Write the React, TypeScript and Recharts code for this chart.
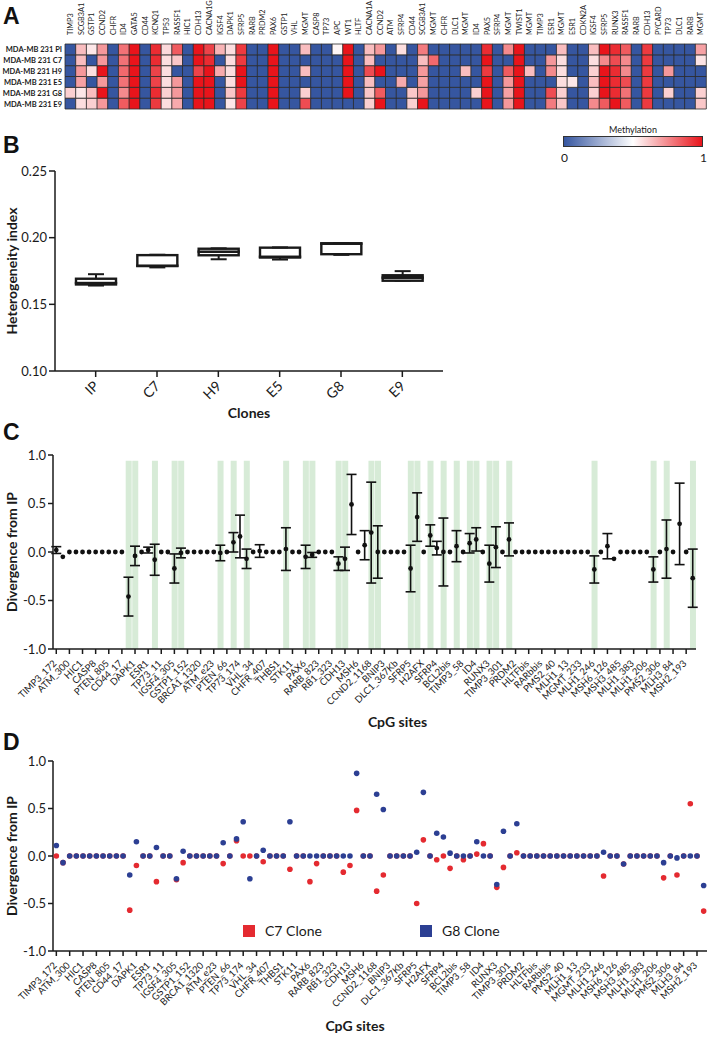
import React from 'react'
import { BarChart, Bar, Cell, ComposedChart, Line, ErrorBar, XAxis, YAxis, Legend } from 'recharts'

const FONT = 'Lato, "Open Sans", sans-serif'
const INK = '#1a1a1a'

// ---------- A: methylation heatmap ----------
const genes = [
  'TIMP3', 'SCGB3A1', 'GSTP1', 'CCND2', 'CHFR', 'ID4', 'GATA5', 'CD44', 'KCNQ1', 'TP53',
  'RASSF1', 'HIC1', 'CDH13', 'CACNA1G', 'IGSF4', 'DAPK1', 'SFRP5', 'RARB', 'PRDM2', 'PAX6',
  'GSTP1', 'VHL', 'MGMT', 'CASP8', 'TP73', 'APC', 'WT1', 'HLTF', 'CACNA1A', 'CCND2',
  'ATM', 'SFRP4', 'CD44', 'SCGB3A1', 'MGMT', 'CHFR', 'DLC1', 'MGMT', 'ID4', 'PAX5',
  'SFRP4', 'MGMT', 'TWIST1', 'MGMT', 'TIMP3', 'ESR1', 'MGMT', 'ESR1', 'CDKN2A', 'IGSF4',
  'SFRP5', 'RUNX3', 'RASSF1', 'RARB', 'CDH13', 'PYCARD', 'TP73', 'DLC1', 'RARB', 'MGMT',
]
const rowLabels = ['MDA-MB 231 PI', 'MDA-MB 231 C7', 'MDA-MB 231 H9', 'MDA-MB 231 E5', 'MDA-MB 231 G8', 'MDA-MB 231 E9']
const heatKeys = ['PI', 'C7', 'H9', 'E5', 'G8', 'E9']

const methPI = [
  0, 0.64, 0.55, 0.72, 0, 0.8, 1, 0, 0.95, 0.58, 0.85, 0, 1, 0.9, 0.66, 0.57, 0.92, 0, 0, 1,
  0, 0, 0.64, 0, 0, 0.52, 1, 0, 0.64, 0.72, 0, 0.57, 0, 0.78, 0, 0, 0, 0, 0, 0.95,
  0, 0.75, 1, 0, 0, 0, 0.64, 0, 0, 0.64, 1, 0.95, 0.85, 0, 0.92, 0, 0, 0, 0, 0.7,
]
const methC7 = [
  0, 0.64, 0, 0.72, 0, 0.8, 1, 0, 0.95, 0.57, 0.62, 0, 1, 0.95, 0, 0.57, 0.92, 0, 0, 1,
  0, 0, 0, 0, 0, 0, 1, 0, 0.64, 0, 0, 0, 0, 0.64, 0.82, 0, 0, 0, 0, 1,
  0, 0, 1, 0, 0, 0.72, 0.57, 0, 0, 0.57, 0.75, 0.88, 0.75, 0, 0.92, 0, 0, 0, 0, 0.56,
]
const methH9 = [
  0, 0.72, 0.57, 1, 0, 0.82, 1, 0, 0.9, 0.57, 0, 0, 0.9, 1, 0.68, 0.57, 1, 0, 0, 1,
  0, 0, 0.64, 0, 0, 0, 1, 0, 0.88, 1, 0, 0, 0, 0.72, 0, 0, 0, 0.64, 0, 0.92,
  0, 0.85, 1, 0.64, 0, 0.75, 0.57, 0, 0, 0.6, 1, 0.95, 0.75, 0, 0.92, 0, 0.72, 0, 0, 0,
]
const methE5 = [
  0, 0.7, 0, 0.72, 0, 0.8, 1, 0, 0.9, 0.57, 0.72, 0, 1, 1, 0, 0.57, 1, 0, 0, 1,
  0, 0, 0, 0, 0, 0, 1, 0, 0.64, 0, 0, 0.68, 0, 0.7, 0, 0, 0, 0, 0, 1,
  0, 0.72, 1, 0, 0, 0, 0.57, 0.55, 0, 0.64, 1, 0.95, 0.88, 0, 0.92, 0, 0, 0, 0, 0,
]
const methG8 = [
  0.6, 0.55, 0.64, 1, 0, 0.75, 1, 0, 0.95, 0.6, 0.72, 0, 1, 1, 0, 0.62, 0.92, 0, 0, 1,
  0, 0, 0.6, 0, 0, 0, 1, 0, 0.62, 0.85, 0, 0, 0.62, 0.72, 0, 0, 0, 0, 0.6, 1,
  0, 0.7, 1, 0, 0, 0.88, 0.6, 0, 0, 0.6, 1, 0.95, 0.8, 0, 0.92, 0, 0.6, 0, 0, 0.6,
]
const methE9 = [
  0, 0.57, 0.6, 0.72, 0, 0.85, 1, 0, 0.92, 0.57, 0.68, 0, 1, 1, 0, 0.55, 0.9, 0, 0, 1,
  0, 0, 0.88, 0, 0, 0, 0, 0, 0.6, 1, 0, 0, 0.6, 1, 0, 0, 0, 0, 0, 1,
  0, 0.72, 1, 0, 0, 0.78, 0.62, 0, 0, 0.75, 0.85, 1, 0.85, 0, 0.92, 0, 0, 0, 0, 0.62,
]
const methRows = [methPI, methC7, methH9, methE5, methG8, methE9]

// ---------- B: heterogeneity index ----------
const clones = ['IP', 'C7', 'H9', 'E5', 'G8', 'E9']
const boxMin = [0.1641, 0.1777, 0.1838, 0.1836, 0.1871, 0.1677]
const boxQ1 = [0.1649, 0.1787, 0.1868, 0.1851, 0.1876, 0.1677]
const boxMed = [0.166, 0.179, 0.1895, 0.1857, 0.1955, 0.17]
const boxQ3 = [0.1692, 0.1869, 0.1917, 0.1925, 0.1958, 0.1718]
const boxMax = [0.1726, 0.1872, 0.192, 0.1927, 0.196, 0.1749]

// ---------- C / D: CpG sites ----------
const cpgLabels = [
  'TIMP3_172', 'ATM_300', 'HIC1', 'CASP8', 'PTEN_805', 'CD44_17', 'DAPK1', 'ESR1', 'TP73_11', 'IGSF4_305',
  'GSTP1_152', 'BRCA1_1320', 'ATM_e23', 'PTEN_66', 'TP73_174', 'VHL_34', 'CHFR_407', 'THBS1', 'STK11', 'PAX6',
  'RARB_823', 'RB1_323', 'CDH13', 'MSH6', 'CCND2_1168', 'BNIP3', 'DLC1_367Kb', 'SFRP5', 'H2AFX', 'SFRP4',
  'BCL2bis', 'TIMP3_58', 'ID4', 'RUNX3', 'TIMP3_301', 'PRDM2', 'HLTFbis', 'RARbbis', 'PMS2_40', 'MLH1_13',
  'MGMT_233', 'MLH1_246', 'MSH6_126', 'MSH3_485', 'MLH1_383', 'MLH1_206', 'PMS2_306', 'MLH3_84', 'MSH2_193',
]
const divMean = [
  0.02, -0.05, 0, 0, 0, 0, 0, 0, 0, 0,
  0, -0.46, -0.04, 0, 0.02, -0.08, 0, 0, -0.17, -0.01,
  0, 0, 0, 0, 0, -0.01, 0, 0.1, 0.16, -0.07,
  0, 0.01, 0, 0, 0, 0.03, 0, 0, -0.05, -0.03,
  0, 0, 0, -0.12, -0.07, 0.49, 0, 0.07, 0.2, 0,
  0, 0, 0, 0, -0.17, 0.36, 0, 0.17, 0.04, 0,
  0, 0.06, 0, 0.09, 0.13, 0, -0.12, 0.05, 0, 0.13,
  0, 0, 0, 0, 0, 0, 0, 0, 0, 0,
  0, 0, -0.18, 0, 0.06, -0.07, 0, 0, 0, 0,
  0, -0.18, 0, 0.03, 0, 0.29, 0, -0.27,
]
const divErr = [
  0.035, 0, 0, 0, 0, 0, 0, 0, 0, 0,
  0, 0.2, 0.1, 0, 0.03, 0.16, 0, 0, 0.15, 0.05,
  0, 0, 0, 0, 0, 0.08, 0, 0.1, 0.22, 0.1,
  0, 0.065, 0, 0, 0, 0.22, 0, 0, 0.12, 0.025,
  0, 0, 0, 0.07, 0.12, 0.31, 0, 0.15, 0.52, 0.27,
  0, 0, 0, 0, 0.24, 0.25, 0, 0.11, 0.07, 0.35,
  0, 0.16, 0, 0.1, 0.12, 0, 0.19, 0.21, 0, 0.17,
  0, 0, 0, 0, 0, 0, 0, 0, 0, 0,
  0, 0, 0.14, 0, 0.13, 0, 0, 0, 0, 0,
  0, 0.13, 0, 0.3, 0, 0.42, 0, 0.3,
]
const shadedSites = [11, 12, 15, 18, 19, 25, 27, 29, 35, 38, 39, 43, 44, 48, 49, 54, 55, 57, 59, 61, 63, 64, 66, 67, 69, 82, 91, 93, 97]

const c7Div = [
  0, -0.07, 0, 0, 0, 0, 0, 0, 0, 0,
  0, -0.57, -0.1, 0, 0, -0.27, 0, 0, -0.25, -0.07,
  0, 0, 0, 0, 0, -0.08, 0, 0.16, 0, 0,
  0, -0.06, 0, 0, 0, -0.14, 0, 0, -0.27, -0.08,
  0, 0, 0, -0.17, -0.1, 0.48, 0, 0, -0.37, -0.2,
  0, 0, 0, 0, -0.5, 0.17, 0, -0.04, 0, -0.13,
  0, -0.04, 0, 0.02, 0.13, 0, -0.33, -0.12, 0, 0.035,
  0, 0, 0, 0, 0, 0, 0, 0, 0, 0,
  0, 0, -0.21, 0, 0, -0.085, 0, 0, 0, 0,
  0, -0.23, 0, -0.2, 0, 0.55, 0, -0.58,
]
const g8Div = [
  0.11, -0.07, 0, 0, 0, 0, 0, 0, 0, 0,
  0, -0.2, 0.15, 0, 0, 0.09, 0, 0, -0.24, 0.05,
  0, 0, 0, 0, 0, 0.14, 0, 0.18, 0.36, -0.24,
  0, 0.06, 0, 0, 0, 0.36, 0, 0, 0, 0,
  0, 0, 0, 0, 0, 0.87, 0, 0, 0.65, 0.49,
  0, 0, 0, 0, 0.04, 0.67, 0, 0.24, 0.2, 0.03,
  0, 0, 0, 0.15, 0, 0, -0.3, 0.26, 0, 0.34,
  0, 0, 0, 0, 0, 0, 0, 0, 0, 0,
  0, 0, 0.04, 0, 0, -0.085, 0, 0, 0, 0,
  0, -0.07, 0, -0.02, 0, 0, 0, -0.31,
]
const seriesNames = ['C7 Clone', 'G8 Clone']
const RED_DOT = '#e42a30'
const BLUE_DOT = '#2c3f93'

// ---- built tables ----
const heatData = genes.map((gene, i) => {
  const d: any = { i, gene }
  heatKeys.forEach((k, r) => {
    d[k] = methRows[r][i]
    d['u' + k] = 1
  })
  return d
})

const boxData = clones.map((clone, k) => ({
  clone,
  base: boxMin[k],
  lowW: boxQ1[k] - boxMin[k],
  lower: boxMed[k] - boxQ1[k],
  upper: boxQ3[k] - boxMed[k],
  highW: boxMax[k] - boxQ3[k],
}))

const cpgData = divMean.map((m, i) => ({
  i,
  mean: m,
  err: divErr[i],
  shade: shadedSites.includes(i) ? [-1, 0.94] : null,
  c7: c7Div[i],
  g8: g8Div[i],
}))

const BLUE = [54, 86, 160]
const RED = [233, 20, 27]
const WHITE = [255, 255, 255]
const mix = (a: number[], b: number[], t: number) =>
  `rgb(${a.map((c, k) => Math.round(c + (b[k] - c) * t)).join(',')})`
const methColor = (v: number) => (v <= 0.5 ? mix(BLUE, WHITE, v / 0.5) : mix(WHITE, RED, (v - 0.5) / 0.5))

// ---------- ticks & shapes ----------
function GeneTick({ x, y, payload }: any) {
  const tx = x + 2.6
  return (
    <text x={tx} y={y} transform={`rotate(-90 ${tx} ${y})`} fontSize={7.3} fontFamily={FONT} fill={INK}>
      {genes[payload.value]}
    </text>
  )
}

function RowTick({ x, y, payload }: any) {
  return (
    <text x={x} y={y} dy={3} textAnchor="end" fontSize={7.5} fontWeight={700} fontFamily={FONT} fill={INK}>
      {rowLabels[Math.round(5.5 - payload.value)]}
    </text>
  )
}

function CloneTick({ x, y, payload }: any) {
  const ax = x + 4
  const ay = y + 8
  return (
    <text x={ax} y={ay} transform={`rotate(-45 ${ax} ${ay})`} textAnchor="end" fontSize={14} fontFamily={FONT} fill={INK}>
      {payload.value}
    </text>
  )
}

function CpgTick({ x, y, payload }: any) {
  const ax = x + 1
  const ay = y + 8
  return (
    <text x={ax} y={ay} transform={`rotate(-45 ${ax} ${ay})`} textAnchor="end" fontSize={9.5} fontFamily={FONT} fill={INK}>
      {cpgLabels[payload.value / 2]}
    </text>
  )
}

const yTitle = (text: string) => (props: any) => {
  const vb = props.viewBox
  const cx = vb.x + 13
  const cy = vb.y + vb.height / 2
  return (
    <text x={cx} y={cy} transform={`rotate(-90 ${cx} ${cy})`} textAnchor="middle" dominantBaseline="middle"
      fontSize={14} fontWeight={700} fontFamily={FONT} fill={INK}>
      {text}
    </text>
  )
}

const xTitle = (text: string, dy: number, dx = 0) => (props: any) => {
  const vb = props.viewBox
  return (
    <text x={vb.x + vb.width / 2 + dx} y={vb.y + dy} textAnchor="middle" fontSize={14} fontWeight={700} fontFamily={FONT} fill={INK}>
      {text}
    </text>
  )
}

function WhiskerLow({ x, y, width, height }: any) {
  const cx = x + width / 2
  return (
    <g stroke={INK} strokeWidth={2}>
      <line x1={cx} y1={y} x2={cx} y2={y + height} />
      <line x1={cx - 8} y1={y + height} x2={cx + 8} y2={y + height} />
    </g>
  )
}

function WhiskerHigh({ x, y, width, height }: any) {
  const cx = x + width / 2
  return (
    <g stroke={INK} strokeWidth={2}>
      <line x1={cx} y1={y} x2={cx} y2={y + height} />
      <line x1={cx - 8} y1={y} x2={cx + 8} y2={y} />
    </g>
  )
}

function BoxHalf({ x, y, width, height }: any) {
  return <rect x={x} y={y} width={width} height={Math.max(height, 0)} fill="#fff" stroke={INK} strokeWidth={2.4} />
}

const axisStroke = { stroke: INK, strokeWidth: 1.5 }
const yTick = { fontSize: 13, fontFamily: FONT, fill: INK }

function CloneLegend() {
  const colors = [RED_DOT, BLUE_DOT]
  return (
    <div style={{ position: 'relative', height: 16, width: 709 }}>
      {seriesNames.map((name, k) => (
        <div key={name} style={{ position: 'absolute', left: 243 + k * 177, top: 0, display: 'flex', alignItems: 'center' }}>
          <span style={{ width: 12, height: 12, background: colors[k], display: 'inline-block' }} />
          <span style={{ marginLeft: 10, fontSize: 14, lineHeight: '16px', fontFamily: FONT, color: INK }}>{name}</span>
        </div>
      ))}
    </div>
  )
}

const letterStyle = (top: number): React.CSSProperties => ({
  position: 'absolute',
  left: 3,
  top,
  fontFamily: '"Liberation Sans", Arial, sans-serif',
  fontWeight: 700,
  fontSize: 23,
  lineHeight: '24px',
  color: '#111',
})

export default function App() {
  return (
    <div style={{ position: 'relative', width: 709, height: 1039, background: '#fff', overflow: 'hidden' }}>
      <style>{'body{margin:0}'}</style>

      {/* A */}
      <div style={{ position: 'absolute', left: 0, top: 0 }}>
        <BarChart width={709} height={112} data={heatData} margin={{ top: 4, right: 3, bottom: 3, left: 0 }} barCategoryGap={0}>
          <XAxis dataKey="i" type="category" orientation="top" height={40} interval={0} axisLine={false} tickLine={false}
            tickSize={0} tickMargin={9} tick={GeneTick} />
          <YAxis type="number" domain={[0, 6]} ticks={[0.5, 1.5, 2.5, 3.5, 4.5, 5.5]} interval={0} width={65} axisLine={false}
            tickLine={false} tickSize={0} tickMargin={3} tick={RowTick} />
          {[...heatKeys].reverse().map((k) => (
            <Bar key={k} dataKey={'u' + k} stackId="h" isAnimationActive={false}>
              {heatData.map((d) => (
                <Cell key={d.i} fill={methColor(d[k])} stroke="#2b2b2b" strokeWidth={0.8} />
              ))}
            </Bar>
          ))}
        </BarChart>
      </div>
      <div style={letterStyle(4)}>A</div>

      {/* colour key */}
      <div style={{ position: 'absolute', left: 563, top: 124, width: 140, textAlign: 'center', fontSize: 9, fontFamily: FONT, color: INK }}>
        Methylation
      </div>
      <div style={{
        position: 'absolute', left: 563, top: 136, width: 138, height: 9, border: '1px solid #333',
        background: `linear-gradient(to right, ${methColor(0)}, ${methColor(0.5)} 50%, ${methColor(1)})`,
      }} />
      <div style={{ position: 'absolute', left: 561, top: 150, fontSize: 12, fontFamily: FONT, color: INK }}>0</div>
      <div style={{ position: 'absolute', left: 700, top: 150, fontSize: 12, fontFamily: FONT, color: INK }}>1</div>

      {/* B */}
      <div style={{ position: 'absolute', left: 0, top: 150 }}>
        <ComposedChart width={450} height={277} data={boxData} margin={{ top: 21, right: 7, bottom: 5, left: 0 }}>
          <XAxis dataKey="clone" interval={0} padding={{ left: 10, right: 10 }} height={51} axisLine={axisStroke}
            tickLine={axisStroke} tickSize={6} tick={CloneTick} label={xTitle('Clones', 47, 0)} />
          <YAxis type="number" domain={[0.1, 0.25]} ticks={[0.1, 0.15, 0.2, 0.25]} allowDataOverflow width={55}
            axisLine={axisStroke} tickLine={axisStroke} tickSize={6} tick={yTick} tickFormatter={(v: number) => v.toFixed(2)}
            label={yTitle('Heterogeneity index')} />
          <Bar dataKey="base" stackId="b" fill="transparent" barSize={40} isAnimationActive={false} />
          <Bar dataKey="lowW" stackId="b" barSize={40} shape={WhiskerLow} isAnimationActive={false} />
          <Bar dataKey="lower" stackId="b" barSize={40} shape={BoxHalf} isAnimationActive={false} />
          <Bar dataKey="upper" stackId="b" barSize={40} shape={BoxHalf} isAnimationActive={false} />
          <Bar dataKey="highW" stackId="b" barSize={40} shape={WhiskerHigh} isAnimationActive={false} />
        </ComposedChart>
      </div>
      <div style={letterStyle(133)}>B</div>

      {/* C */}
      <div style={{ position: 'absolute', left: 0, top: 440 }}>
        <ComposedChart width={709} height={294} data={cpgData} margin={{ top: 15, right: 13, bottom: 0, left: 0 }} barCategoryGap="8%">
          <XAxis dataKey="i" type="category" interval={1} height={85} axisLine={axisStroke} tickLine={axisStroke}
            tickSize={5} tick={CpgTick} label={xTitle('CpG sites', 78, 23)} />
          <YAxis type="number" domain={[-1, 1]} ticks={[-1, -0.5, 0, 0.5, 1]} width={53} axisLine={axisStroke}
            tickLine={axisStroke} tickSize={5} tick={yTick} tickFormatter={(v: number) => v.toFixed(1)}
            label={yTitle('Divergence from IP')} />
          <Bar dataKey="shade" fill="#d7ebd7" isAnimationActive={false} />
          <Line dataKey="mean" stroke="none" dot={{ r: 2.4, fill: '#111', stroke: 'none' }} isAnimationActive={false}>
            <ErrorBar dataKey="err" width={5} stroke="#111" strokeWidth={1.6} />
          </Line>
        </ComposedChart>
      </div>
      <div style={letterStyle(420)}>C</div>

      {/* D */}
      <div style={{ position: 'absolute', left: 0, top: 745 }}>
        <ComposedChart width={709} height={294} data={cpgData} margin={{ top: 16, right: 2, bottom: 0, left: 0 }}>
          <XAxis dataKey="i" type="category" scale="band" interval={1} height={88} axisLine={axisStroke}
            tickLine={axisStroke} tickSize={5} tick={CpgTick} label={xTitle('CpG sites', 80, -25)} />
          <YAxis type="number" domain={[-1, 1]} ticks={[-1, -0.5, 0, 0.5, 1]} width={53} axisLine={axisStroke}
            tickLine={axisStroke} tickSize={5} tick={yTick} tickFormatter={(v: number) => v.toFixed(1)}
            label={yTitle('Divergence from IP')} />
          <Legend content={CloneLegend} layout="horizontal" verticalAlign="middle" align="center"
            wrapperStyle={{ left: 0, top: 178, width: 709 }} />
          <Line dataKey="c7" name={seriesNames[0]} stroke="none" dot={{ r: 2.8, fill: RED_DOT, stroke: 'none' }} isAnimationActive={false} />
          <Line dataKey="g8" name={seriesNames[1]} stroke="none" dot={{ r: 2.8, fill: BLUE_DOT, stroke: 'none' }} isAnimationActive={false} />
        </ComposedChart>
      </div>
      <div style={letterStyle(730)}>D</div>
    </div>
  )
}
